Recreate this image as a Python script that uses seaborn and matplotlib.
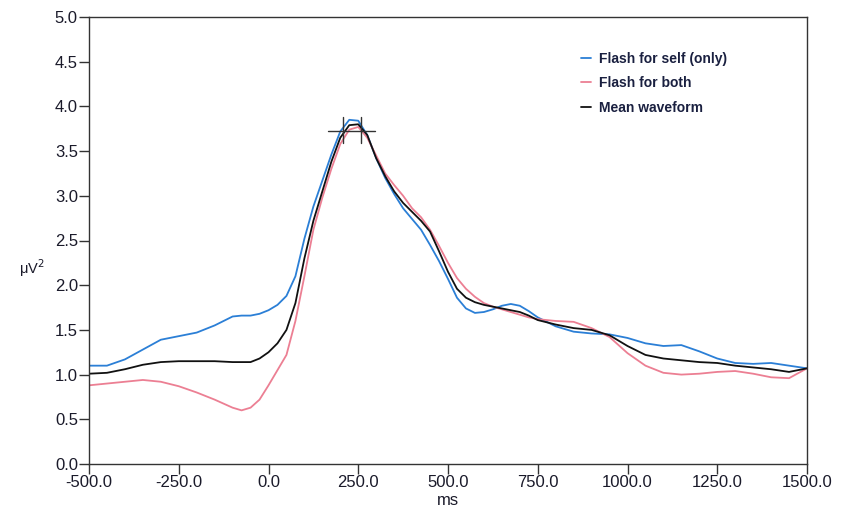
import numpy as np
import pandas as pd
import matplotlib
matplotlib.use("Agg")
import matplotlib.pyplot as plt
import seaborn as sns

time_ms = [-500, -450, -400, -350, -300, -250, -200, -150, -100,
           -75, -50, -25, 0, 25, 50, 75, 100, 125, 150, 175, 200, 225, 250,
           275, 300, 325, 350, 375, 400, 425, 450,
           475, 500, 525, 550, 575, 600, 625, 650, 675, 700, 725, 750,
           800, 850, 900, 950, 1000, 1050,
           1100, 1150, 1200, 1250, 1300, 1350, 1400, 1450, 1500]

flash_self = [1.10, 1.10, 1.17, 1.28, 1.39, 1.43, 1.47, 1.55, 1.65,
              1.66, 1.66, 1.68, 1.72, 1.78, 1.88, 2.10, 2.52, 2.88, 3.17, 3.46, 3.72, 3.85, 3.84,
              3.68, 3.42, 3.20, 3.02, 2.86, 2.74, 2.62, 2.45,
              2.27, 2.07, 1.86, 1.74, 1.69, 1.70, 1.73, 1.77, 1.79, 1.77, 1.71, 1.64,
              1.54, 1.48, 1.46, 1.45, 1.41, 1.35,
              1.32, 1.33, 1.26, 1.18, 1.13, 1.12, 1.13, 1.10, 1.07]

flash_both = [0.88, 0.90, 0.92, 0.94, 0.92, 0.87, 0.80, 0.72, 0.63,
              0.60, 0.63, 0.72, 0.88, 1.05, 1.22, 1.60, 2.10, 2.62, 2.98, 3.30, 3.58, 3.74, 3.77,
              3.65, 3.45, 3.25, 3.12, 3.00, 2.86, 2.76, 2.62,
              2.44, 2.25, 2.08, 1.96, 1.87, 1.80, 1.76, 1.73, 1.70, 1.67, 1.64, 1.62,
              1.60, 1.59, 1.52, 1.42, 1.24, 1.10,
              1.02, 1.00, 1.01, 1.03, 1.04, 1.01, 0.97, 0.96, 1.07]

mean_wave = [1.01, 1.02, 1.06, 1.11, 1.14, 1.15, 1.15, 1.15, 1.14,
             1.14, 1.14, 1.18, 1.25, 1.35, 1.50, 1.80, 2.30, 2.72, 3.05, 3.38, 3.65, 3.79, 3.80,
             3.68, 3.42, 3.22, 3.05, 2.92, 2.82, 2.72, 2.60,
             2.38, 2.15, 1.96, 1.86, 1.81, 1.78, 1.76, 1.74, 1.72, 1.70, 1.66, 1.61,
             1.56, 1.52, 1.50, 1.44, 1.32, 1.22,
             1.18, 1.16, 1.14, 1.13, 1.10, 1.08, 1.06, 1.03, 1.07]

series_names = ["Flash for self (only)", "Flash for both", "Mean waveform"]
series_colors = ["#2b7fd6", "#ec7f93", "#111111"]

# peak cursor marks
cursor_h_x = [166, 297]
cursor_h_y = [3.72, 3.72]
cursor_v_x = [207, 258]
cursor_v_y = [3.59, 3.88]

x_ticks = [-500, -250, 0, 250, 500, 750, 1000, 1250, 1500]
y_ticks = [0.0, 0.5, 1.0, 1.5, 2.0, 2.5, 3.0, 3.5, 4.0, 4.5, 5.0]

df = pd.concat([
    pd.DataFrame({"ms": time_ms, "value": vals, "series": name})
    for name, vals in zip(series_names, [flash_self, flash_both, mean_wave])
])

sns.set_theme(style="white")
plt.rcParams["font.family"] = ["Liberation Sans", "DejaVu Sans"]

fig = plt.figure(figsize=(8.41, 5.22), dpi=100)
ax = fig.add_axes([89/841, 1 - 464/522, (807-89)/841, (464-17)/522])

sns.lineplot(data=df, x="ms", y="value", hue="series", hue_order=series_names,
             palette=series_colors, linewidth=1.3, ax=ax, sort=True)

ax.plot(cursor_h_x, cursor_h_y, color="#333333", lw=1.0)
for xv in cursor_v_x:
    ax.plot([xv, xv], cursor_v_y, color="#333333", lw=1.0)

ax.set_xlim(-500, 1500)
ax.set_ylim(0, 5)
ax.set_xticks(x_ticks)
ax.set_xticklabels([f"{v:.1f}" for v in x_ticks])
ax.set_yticks(y_ticks)
ax.set_yticklabels([f"{v:.1f}" for v in y_ticks])
ax.tick_params(axis="both", direction="out", length=7, width=1.0,
               color="#333333", labelsize=12, labelcolor="#1a1a2a", pad=1,
               left=True, bottom=True)
for s in ax.spines.values():
    s.set_color("#333333")
    s.set_linewidth(1.0)

ax.set_xlabel("ms", fontsize=12, color="#1a1a2a", labelpad=2)
ax.set_ylabel("")
fig.text(32/841, 1 - 268/522, "μV$^2$", fontsize=10.5, color="#1a1a2a",
         ha="center", va="center")

leg = ax.legend(loc="upper left", bbox_to_anchor=(0.668, 0.95), frameon=False,
                handlelength=0.7, handletextpad=0.6, labelspacing=0.75,
                fontsize=10)
for t in leg.get_texts():
    t.set_color("#1a2040")
    t.set_fontweight("bold")

fig.savefig("out.png", dpi=100, facecolor="white")
